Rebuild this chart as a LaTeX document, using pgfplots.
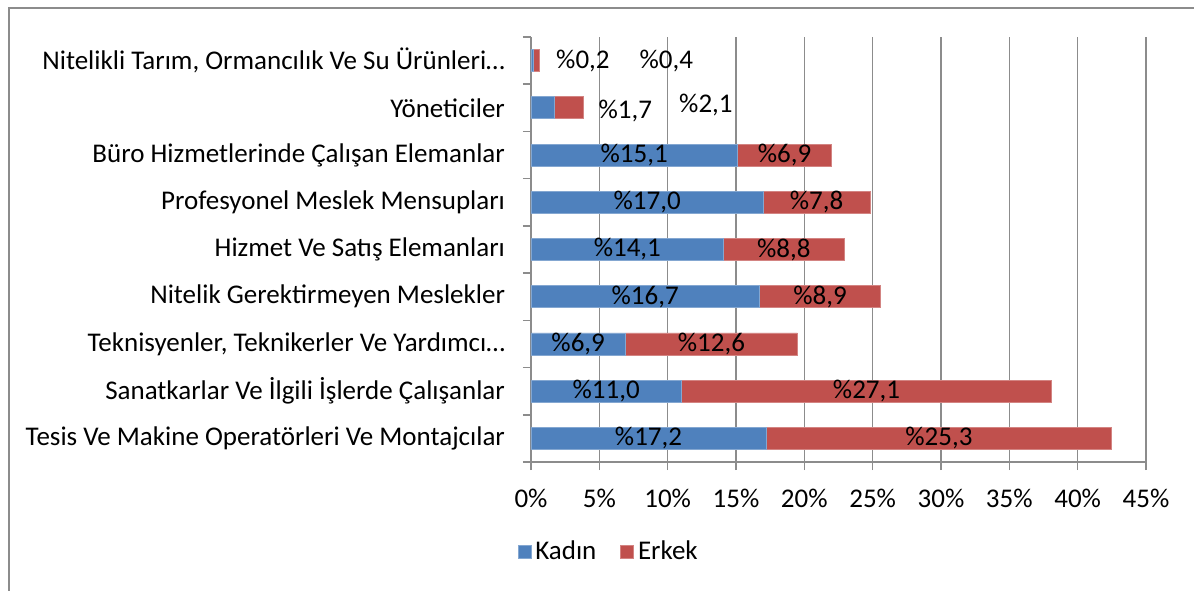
\documentclass[border=0pt]{standalone}
\usepackage{fontspec}
\setmainfont{Carlito}
\usepackage{pgfplots}
\pgfplotsset{compat=1.18}
\definecolor{Kadin}{HTML}{4F81BD}
\definecolor{Erkek}{HTML}{C0504D}
\definecolor{GridGray}{HTML}{8C8C8C}

% y: 0 = bottom category
\pgfplotstableread{
y kadin erkek
0 17.2 25.3
1 11.0 27.1
2 6.9 12.6
3 16.7 8.9
4 14.1 8.8
5 17.0 7.8
6 15.1 6.9
7 1.7 2.1
8 0.2 0.4
}\datatable

% label positions (segment centres, Excel-style spill for tiny bars)
\pgfplotstableread{
x y lab
8.6 0 17,2
29.85 0 25,3
5.5 1 11,0
24.55 1 27,1
3.45 2 6,9
13.2 2 12,6
8.35 3 16,7
21.15 3 8,9
7.05 4 14,1
18.5 4 8,8
8.5 5 17,0
20.9 5 7,8
7.55 6 15,1
18.55 6 6,9
6.9 6.94 1,7
12.8 7.05 2,1
3.8 8 0,2
9.9 8 0,4
}\labeltable

\begin{document}
\begin{tikzpicture}[font=\fontsize{13.5}{16}\selectfont]
\useasboundingbox (0,0) rectangle (597pt,295pt);
\draw[GridGray, line width=1.2pt] (4.5pt,-10pt) -- (4.5pt,291pt) -- (600pt,291pt);
\pgfplotsset{
  common/.style={
    scale only axis,
    width=307.5pt,
    height=212.5pt,
    at={(265.5pt,64pt)},
    anchor=south west,
    xmin=0, xmax=45,
    ymin=-0.5, ymax=8.5,
  }
}
\begin{axis}[
  common,
  xbar stacked,
  bar width=11pt,
  axis lines*=left,
  axis line style={GridGray, line width=0.8pt},
  xtick={0,5,...,45},
  xticklabels={0\%,5\%,10\%,15\%,20\%,25\%,30\%,35\%,40\%,45\%},
  xmajorgrids,
  grid style={GridGray, line width=0.8pt},
  tick align=outside,
  major tick length=4pt,
  x tick style={GridGray, line width=0.8pt},
  xticklabel style={yshift=-6pt},
  ytick={0,...,8},
  yticklabels={
    Tesis Ve Makine Operatörleri Ve Montajcılar,
    Sanatkarlar Ve İlgili İşlerde Çalışanlar,
    {Teknisyenler, Teknikerler Ve Yardımcı…},
    Nitelik Gerektirmeyen Meslekler,
    Hizmet Ve Satış Elemanları,
    Profesyonel Meslek Mensupları,
    Büro Hizmetlerinde Çalışan Elemanlar,
    Yöneticiler,
    {Nitelikli Tarım, Ormancılık Ve Su Ürünleri…}
  },
  y tick style={draw=none},
  yticklabel style={xshift=-5.5pt},
  minor ytick={-0.5,0.5,...,8.5},
  minor y tick style={GridGray, line width=0.8pt, draw=GridGray},
  minor tick length=4pt,
  legend columns=2,
  legend style={
    draw=none, fill=none,
    at={(0.128,-0.212)}, anchor=center,
    /tikz/every even column/.append style={column sep=10pt},
  },
  legend image code/.code={\fill[#1] (0pt,-3.2pt) rectangle (6.4pt,3.2pt);},
]
\addplot[fill=Kadin, draw=Kadin!70!white, line width=0.4pt] table[x=kadin, y=y] {\datatable};
\addlegendentry{Kadın}
\addplot[fill=Erkek, draw=Erkek!70!white, line width=0.4pt] table[x=erkek, y=y] {\datatable};
\addlegendentry{Erkek}
\end{axis}
\begin{axis}[
  common,
  hide axis,
]
\addplot[only marks, mark=none,
  point meta=explicit symbolic,
  nodes near coords={\%\pgfplotspointmeta},
  every node near coord/.style={anchor=center, inner sep=0pt, text=black},
] table[x=x, y=y, meta=lab] {\labeltable};
\end{axis}
\end{tikzpicture}
\end{document}
